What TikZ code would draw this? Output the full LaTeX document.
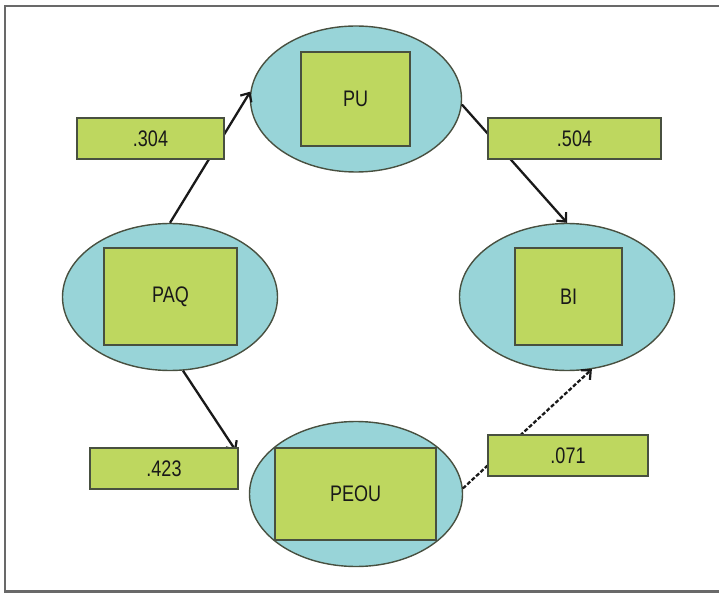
\documentclass[tikz,border=0pt]{standalone}
\usepackage{fontspec}
\setmainfont{Liberation Sans}[FakeStretch=0.8]
\usetikzlibrary{shapes.geometric,arrows.meta}
\definecolor{cyanfill}{RGB}{152,212,216}
\definecolor{greenfill}{RGB}{190,215,95}
\definecolor{edgegray}{RGB}{72,80,64}
\definecolor{framegray}{RGB}{105,105,105}
\tikzset{
  latent/.style={ellipse,draw=edgegray,line width=1.4pt,fill=cyanfill,inner sep=0pt},
  observed/.style={rectangle,draw=edgegray,line width=2pt,fill=greenfill,inner sep=0pt,
    font=\fontsize{22.5}{26}\selectfont,text=black!90},
  coef/.style={rectangle,draw=edgegray,line width=2pt,fill=greenfill,inner sep=0pt,
    minimum height=41pt,font=\fontsize{22.5}{26}\selectfont,text=black!90},
  path/.style={line width=2.3pt,black!90,-{Straight Barb[length=7pt,width=13pt,line width=2.2pt]}}
}
\begin{document}
\begin{tikzpicture}[x=1pt,y=-1pt]
      \useasboundingbox (0,0) rectangle (719,593);
      \draw[framegray,line width=2.2pt] (721,6) -- (5,6) -- (5,591.5) -- (721,591.5);
      % constructs
      \node[latent,minimum width=211pt,minimum height=146pt] (puE) at (356,99) {};
      \node[latent,minimum width=215pt,minimum height=147pt] (paqE) at (170,297) {};
      \node[latent,minimum width=215pt,minimum height=147pt] (biE) at (567,297) {};
      \node[latent,minimum width=213pt,minimum height=145pt] (peouE) at (356,494) {};
      \node[observed,minimum width=109pt,minimum height=94pt] (pu) at (355.5,99) {PU};
      \node[observed,minimum width=133pt,minimum height=97pt] (paq) at (170.5,296.5) {PAQ};
      \node[observed,minimum width=107pt,minimum height=97pt] (bi) at (568.5,296.5) {BI};
      \node[observed,minimum width=161pt,minimum height=92pt] (peou) at (355.5,494) {PEOU};
      \coordinate (c423) at (236,451);
      \begin{scope}[path]
        \draw (paqE.north) to (puE.176);
        \draw (puE.-3) to (biE.north);
        \draw (paqE.-80) to (c423);
        \draw[dash pattern=on 4pt off 2pt] (peouE.3) to (biE.-71);
      \end{scope}
      % path coefficients
      \node[coef,minimum width=147pt] (l304) at (150.5,138.5) {.304};
      \node[coef,minimum width=173pt] (l504) at (574.5,138.5) {.504};
      \node[coef,minimum width=148pt] (l423) at (164,468.5) {.423};
      \node[coef,minimum width=160pt] (l071) at (568,455.5) {.071};
    \end{tikzpicture}
\end{document}
